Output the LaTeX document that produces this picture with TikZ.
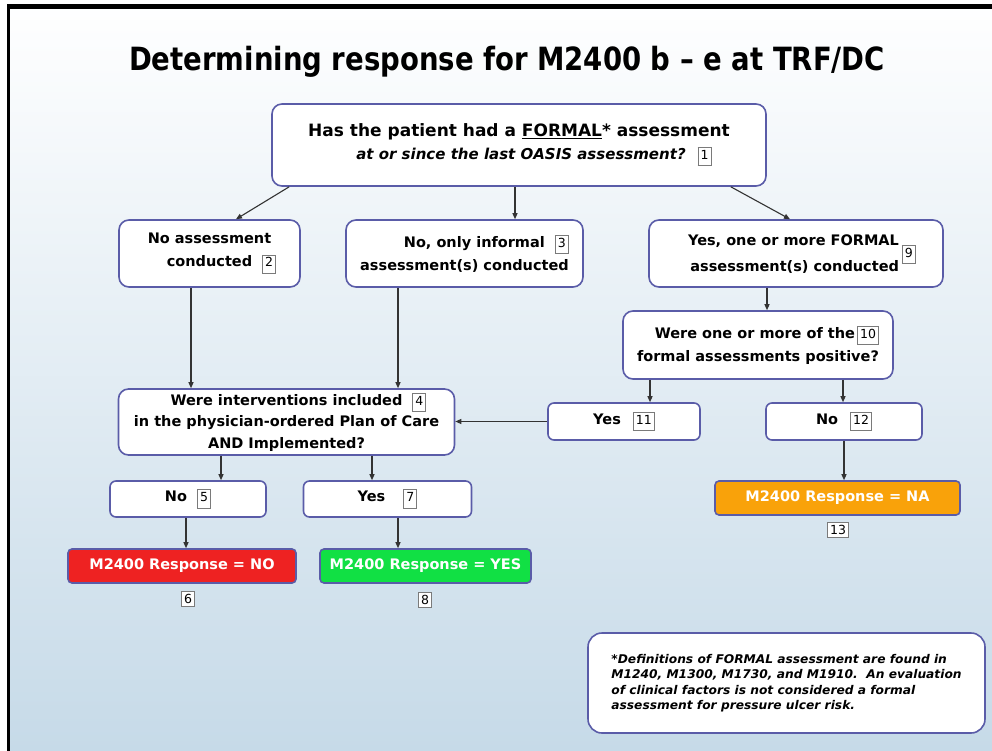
\documentclass[tikz,border=0pt]{standalone}
\usepackage{fontspec}
\setmainfont{DejaVu Sans}
\newfontfamily\numfont{DejaVu Sans}
\newfontfamily\titlefont{DejaVu Sans}[FakeStretch=0.86]
\newfontfamily\footfont{DejaVu Sans}[FakeStretch=1.02]
\usetikzlibrary{arrows.meta}
\definecolor{boxline}{HTML}{5A5CA8}
\definecolor{numgray}{HTML}{7A7A7A}
\definecolor{bgbottom}{HTML}{C6DAE8}
\definecolor{redfill}{HTML}{EE2222}
\definecolor{greenfill}{HTML}{11E044}
\definecolor{orangefill}{HTML}{F9A20A}
\definecolor{lineclr}{HTML}{333333}
\newcommand\nbx[1]{{\setlength\fboxsep{2pt}\setlength\fboxrule{1pt}\fcolorbox{numgray}{white}{\numfont\mdseries\upshape\fontsize{12.5}{13}\selectfont\strut #1}}}
\tikzset{
  qbox/.style={draw=boxline, line width=1.6pt, fill=white, rounded corners=10pt,
    font=\bfseries\fontsize{14.5}{23}\selectfont, inner sep=2pt},
  rbox/.style={draw=boxline, line width=1.6pt, rounded corners=4pt,
    font=\bfseries\fontsize{14.5}{16}\selectfont, text=white, inner sep=2pt},
  numnode/.style={draw=numgray, line width=1pt, fill=white, inner sep=2.5pt,
    font=\numfont\fontsize{12.5}{13}\selectfont},
  arr/.style={draw=lineclr, line width=1.1pt, -{Triangle[length=6pt,width=5pt]}},
}
\begin{document}
\begin{tikzpicture}[x=1pt,y=-1pt]
\useasboundingbox (0,0) rectangle (992,751);
\shade[top color=white, bottom color=bgbottom] (0,0) rectangle (992,751);
\fill[white] (0,0) rectangle (992,4);
\fill[white] (0,0) rectangle (7,751);
\fill[black] (7,4) rectangle (992,9);
\fill[black] (7,4) rectangle (10,751);

\node (title) at (507,62) {\titlefont\bfseries\fontsize{32}{36}\selectfont Determining response for M2400 b – e at TRF/DC};

\node[qbox, minimum width=494pt, minimum height=82pt, align=center] (b1) at (519,145)
  {\fontsize{17}{27}\selectfont Has the patient had a \underline{FORMAL}* assessment\\
   \hspace*{30pt}{\itshape\fontsize{15}{27}\selectfont at or since the last OASIS assessment?}\hspace{12pt}\nbx{1}};

\node[qbox, minimum width=181pt, minimum height=67pt, align=center] (b2) at (209.5,253.5)
  {No assessment\\ \hspace*{24pt}conducted\hspace{10pt}\nbx{2}};
\node[qbox, minimum width=237pt, minimum height=67pt, align=right] (b3) at (464.5,253.5)
  {No, only informal\hspace{10pt}\nbx{3}\\assessment(s) conducted};
\node[qbox, minimum width=294pt, minimum height=67pt] (b9) at (796,253.5)
  {\hspace*{12pt}\begin{tabular}{@{}r@{}}Yes, one or more FORMAL\\[3pt]assessment(s) conducted\end{tabular}\hspace{3pt}\nbx{9}};
\node[qbox, minimum width=270pt, minimum height=68pt, align=right] (b10) at (758,345)
  {Were one or more of the\hspace{2pt}\nbx{10}\\formal assessments positive?};
\node[qbox, minimum width=336pt, minimum height=66pt, align=center, font=\bfseries\fontsize{14.5}{21.5}\selectfont] (b4) at (286.5,422)
  {\hspace*{24pt}Were interventions included\hspace{10pt}\nbx{4}\\in the physician-ordered Plan of Care\\AND Implemented?};
\node[qbox, rounded corners=6pt, minimum width=152pt, minimum height=37pt] (b11) at (624,421.5)
  {Yes\hspace{12pt}\nbx{11}};
\node[qbox, rounded corners=6pt, minimum width=156pt, minimum height=37pt] (b12) at (844,421.5)
  {No\hspace{12pt}\nbx{12}};
\node[qbox, rounded corners=6pt, minimum width=156pt, minimum height=36pt] (b5) at (188,499)
  {No\hspace{10pt}\nbx{5}};
\node[qbox, rounded corners=6pt, minimum width=168pt, minimum height=36pt] (b7) at (387.5,499)
  {Yes\hspace{18pt}\nbx{7}};

\node[rbox, fill=redfill, minimum width=228pt, minimum height=34pt] (r6) at (182,566) {M2400 Response = NO};
\node[rbox, fill=greenfill, minimum width=211pt, minimum height=34pt] (g8) at (425.5,566) {M2400 Response = YES};
\node[rbox, fill=orangefill, minimum width=245pt, minimum height=34pt] (o13) at (837.5,498) {M2400 Response = NA};

\node[numnode] (n6) at (188,599) {6};
\node[numnode] (n8) at (425,600) {8};
\node[numnode] (n13) at (838,530) {13};

\node[qbox, rounded corners=14pt, minimum width=397pt, minimum height=100pt, align=left,
  font=\footfont\bfseries\itshape\fontsize{12}{15.5}\selectfont] (foot) at (786.5,683)
  {*Definitions of FORMAL assessment are found in\\
   M1240, M1300, M1730, and M1910.\ \ An evaluation\\
   of clinical factors is not considered a formal\\
   assessment for pressure ulcer risk.};

\draw[arr] ([xshift=18pt]b1.south west) -- ([xshift=26.5pt]b2.north);
\draw[arr] ([xshift=-4pt]b1.south) -- ([xshift=-4pt]b1.south |- b3.north);
\draw[arr] ([xshift=-36pt]b1.south east) -- ([xshift=-6pt]b9.north);
\draw[arr] ([xshift=-18.5pt]b2.south) -- ([xshift=-18.5pt]b2.south |- b4.north);
\draw[arr] ([xshift=-66.5pt]b3.south) -- ([xshift=-66.5pt]b3.south |- b4.north);
\draw[arr] ([xshift=-29pt]b9.south) -- ([xshift=-29pt]b9.south |- b10.north);
\draw[arr] ([xshift=-108pt]b10.south) -- ([xshift=-108pt]b10.south |- b11.north);
\draw[arr] ([xshift=85pt]b10.south) -- ([xshift=85pt]b10.south |- b12.north);
\draw[arr] (b11.west) -- (b11.west -| b4.east);
\draw[arr] (b12.south) -- (b12.south |- o13.north);
\draw[arr] ([xshift=-65.5pt]b4.south) -- ([xshift=-65.5pt]b4.south |- b5.north);
\draw[arr] ([xshift=85.5pt]b4.south) -- ([xshift=85.5pt]b4.south |- b7.north);
\draw[arr] ([xshift=-2pt]b5.south) -- ([xshift=-2pt]b5.south |- r6.north);
\draw[arr] ([xshift=10.5pt]b7.south) -- ([xshift=10.5pt]b7.south |- g8.north);
\end{tikzpicture}
\end{document}
